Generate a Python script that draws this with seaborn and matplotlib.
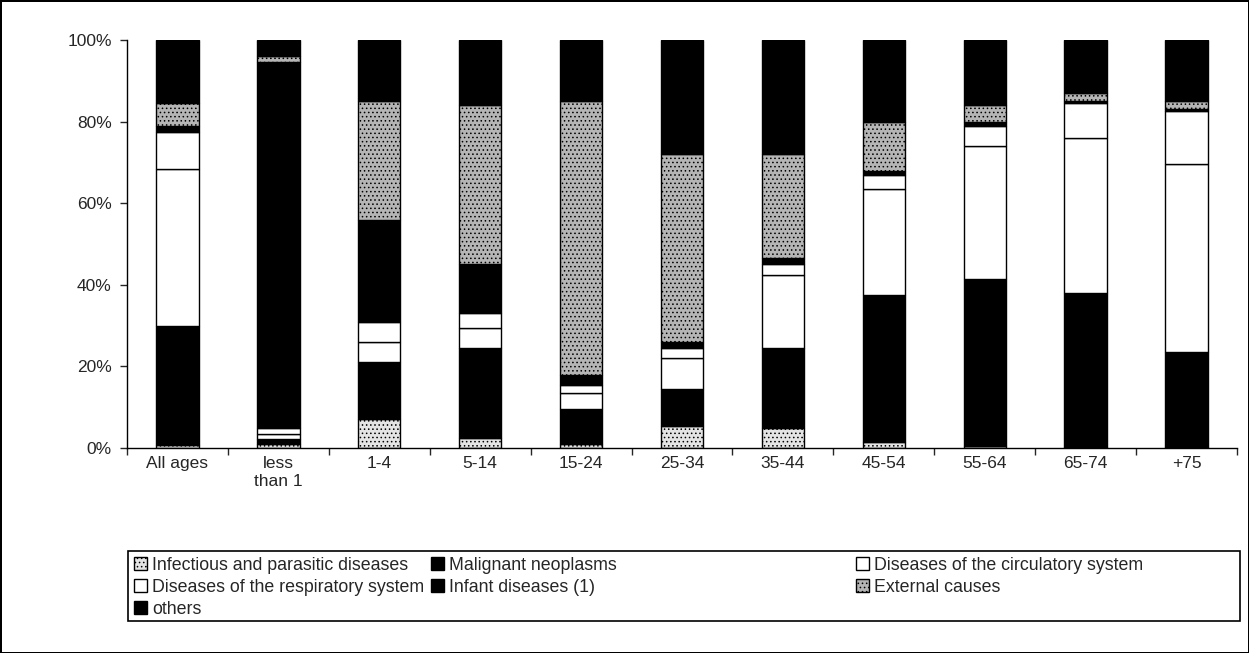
import matplotlib
matplotlib.use("Agg")
import matplotlib.pyplot as plt
import seaborn as sns
from matplotlib.patches import Patch, Rectangle
from matplotlib.ticker import PercentFormatter

ages = ["All ages", "less\nthan 1", "1-4", "5-14", "15-24", "25-34",
        "35-44", "45-54", "55-64", "65-74", "+75"]

# shares of deaths (%) per age group, bottom to top of each bar
infectious = [0.8, 1.0, 7.0, 2.5, 1.0, 5.5, 5.0, 1.5, 0.5, 0.3, 0.3]
malignant = [29.2, 1.2, 14.0, 22.0, 8.5, 9.0, 19.5, 36.0, 41.0, 37.7, 23.2]
circulatory = [38.5, 1.3, 5.0, 5.0, 4.0, 7.5, 18.0, 26.0, 32.5, 38.0, 46.0]
respiratory = [9.0, 1.5, 5.0, 3.5, 2.0, 2.5, 2.5, 3.5, 5.0, 8.5, 13.0]
infant = [1.5, 89.5, 25.0, 12.0, 2.5, 1.5, 1.5, 1.0, 1.0, 0.5, 0.5]
external = [5.5, 1.5, 29.0, 39.0, 67.0, 46.0, 25.5, 12.0, 4.0, 2.0, 2.0]
others = [15.5, 4.0, 15.0, 16.0, 15.0, 28.0, 28.0, 20.0, 16.0, 13.0, 15.0]

series = [
    ("Infectious and parasitic diseases", infectious, "#e4e4e4", "...."),
    ("Malignant neoplasms", malignant, "black", None),
    ("Diseases of the circulatory system", circulatory, "white", None),
    ("Diseases of the respiratory system", respiratory, "white", None),
    ("Infant diseases (1)", infant, "black", None),
    ("External causes", external, "#b5b5b5", "...."),
    ("others", others, "black", None),
]

sns.set_style("white")
plt.rcParams["font.family"] = ["Liberation Sans", "DejaVu Sans"]
plt.rcParams["hatch.linewidth"] = 0.6

fig = plt.figure(figsize=(12.49, 6.53), dpi=100)
ax = fig.add_axes([0.1017, 0.3139, 0.8887, 0.6248])

bottom = [0.0] * len(ages)
handles = {}
for name, vals, col, hatch in series:
    sns.barplot(x=ages, y=vals, bottom=bottom, color=col, saturation=1,
                width=0.42, edgecolor="black", linewidth=1, hatch=hatch, ax=ax)
    handles[name] = Patch(facecolor=col, edgecolor="black", hatch=hatch, linewidth=1)
    bottom = [b + v for b, v in zip(bottom, vals)]

ax.set_xlim(-0.5, len(ages) - 0.5)
ax.set_ylim(0, 100)
ax.set_yticks(range(0, 101, 20))
ax.yaxis.set_major_formatter(PercentFormatter(decimals=0))
ax.set_xticks(range(len(ages)))
ax.set_xticklabels(ages)
ax.set_xticks([i - 0.5 for i in range(len(ages) + 1)], minor=True)
ax.tick_params(axis="x", which="major", length=0, pad=6, labelsize=12.5)
ax.tick_params(axis="x", which="minor", length=5, width=1, direction="out", bottom=True)
ax.tick_params(axis="y", length=5, width=1, direction="out", left=True, labelsize=12.5, pad=6)
ax.set_ylabel("")
sns.despine(ax=ax)
for s in ["left", "bottom"]:
    ax.spines[s].set_color("black")
    ax.spines[s].set_linewidth(1)

# legend frame, Excel style, three columns at fixed positions
fig.patches.append(Rectangle((128 / 1249, 1 - 621 / 653), 1112 / 1249, 70 / 653,
                             transform=fig.transFigure, fill=False,
                             edgecolor="black", linewidth=1.2))
cols = [
    (134, ["Infectious and parasitic diseases", "Diseases of the respiratory system", "others"]),
    (431, ["Malignant neoplasms", "Infant diseases (1)"]),
    (856, ["Diseases of the circulatory system", "External causes"]),
]
for xpx, names in cols:
    fig.legend(handles=[handles[n] for n in names], labels=names,
               loc="upper left", bbox_to_anchor=(xpx / 1249, 1 - 557 / 653),
               frameon=False, fontsize=12.8, handlelength=0.75, handleheight=0.75,
               handletextpad=0.25, labelspacing=0.27, borderpad=0, borderaxespad=0)

fig.patch.set_edgecolor("black")
fig.patch.set_linewidth(2)

fig.savefig("out.png", dpi=100)
